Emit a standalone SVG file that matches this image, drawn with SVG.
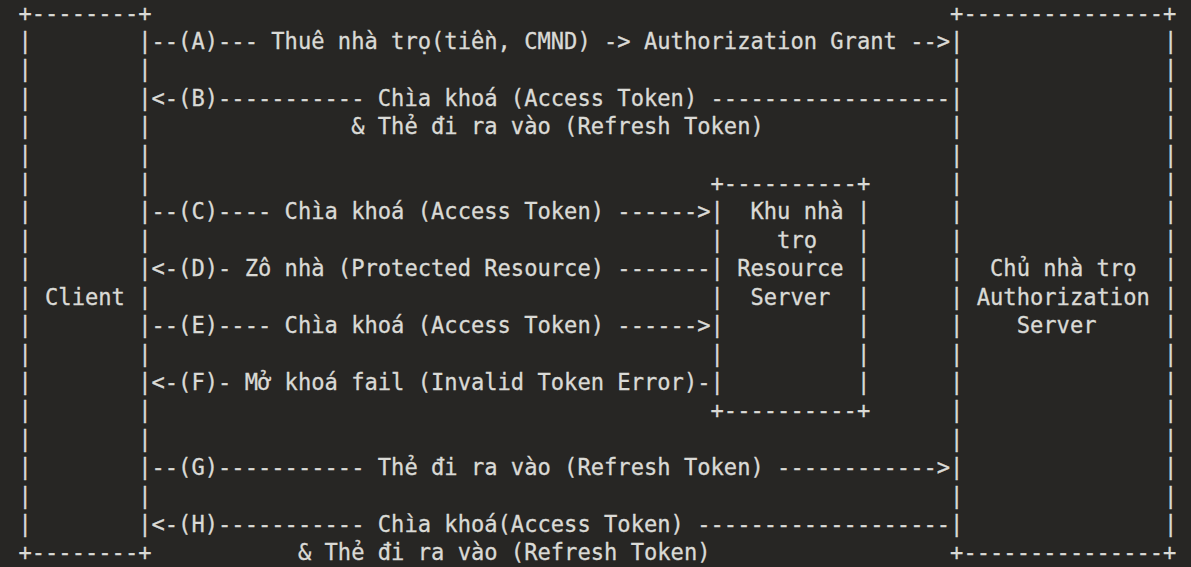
<svg xmlns="http://www.w3.org/2000/svg" width="1191" height="567" viewBox="0 0 1191 567">
<style>
.t{font-family:"DejaVu Sans Mono","Liberation Mono",monospace;font-size:22.1px;fill:#dadad6;stroke:#dadad6;stroke-width:0.3px;white-space:pre;}
</style>
<rect x="0" y="0" width="1191" height="567" fill="#272624"/>
<g id="client">
<text class="t" x="18.4" y="20.5" textLength="133.1" xml:space="preserve">+--------+</text>
<text class="t" x="18.4 18.4 18.4 18.4 18.4 18.4 18.4 18.4 18.4 18.4 18.4 18.4 18.4 18.4 18.4 18.4 18.4 18.4" y="48.92 77.34 105.76 134.18 162.6 191.02 219.44 247.86 276.28 304.7 333.12 361.54 389.96 418.38 446.8 475.22 503.64 532.06">||||||||||||||||||</text>
<text class="t" x="138.19 138.19 138.19 138.19 138.19 138.19 138.19 138.19 138.19 138.19 138.19 138.19 138.19 138.19 138.19 138.19 138.19 138.19" y="48.92 77.34 105.76 134.18 162.6 191.02 219.44 247.86 276.28 304.7 333.12 361.54 389.96 418.38 446.8 475.22 503.64 532.06">||||||||||||||||||</text>
<text class="t" x="45.02" y="304.7" textLength="79.86">Client</text>
<text class="t" x="18.4" y="560.48" textLength="133.1" xml:space="preserve">+--------+</text>
</g>
<g id="resource-server">
<text class="t" x="710.52" y="191.02" textLength="159.72" xml:space="preserve">+----------+</text>
<text class="t" x="710.52 710.52 710.52 710.52 710.52 710.52 710.52" y="219.44 247.86 276.28 304.7 333.12 361.54 389.96">|||||||</text>
<text class="t" x="856.93 856.93 856.93 856.93 856.93 856.93 856.93" y="219.44 247.86 276.28 304.7 333.12 361.54 389.96">|||||||</text>
<text class="t" x="750.45" y="219.44" textLength="93.17" xml:space="preserve">Khu nhà</text>
<text class="t" x="777.07" y="247.86" textLength="39.93">trọ</text>
<text class="t" x="737.14" y="276.28" textLength="106.48">Resource</text>
<text class="t" x="750.45" y="304.7" textLength="79.86">Server</text>
<text class="t" x="710.52" y="418.38" textLength="159.72" xml:space="preserve">+----------+</text>
</g>
<g id="authorization-server">
<text class="t" x="950.1" y="20.5" textLength="226.27" xml:space="preserve">+---------------+</text>
<text class="t" x="950.1 950.1 950.1 950.1 950.1 950.1 950.1 950.1 950.1 950.1 950.1 950.1 950.1 950.1 950.1 950.1 950.1 950.1" y="48.92 77.34 105.76 134.18 162.6 191.02 219.44 247.86 276.28 304.7 333.12 361.54 389.96 418.38 446.8 475.22 503.64 532.06">||||||||||||||||||</text>
<text class="t" x="1164.06 1164.06 1164.06 1164.06 1164.06 1164.06 1164.06 1164.06 1164.06 1164.06 1164.06 1164.06 1164.06 1164.06 1164.06 1164.06 1164.06 1164.06" y="48.92 77.34 105.76 134.18 162.6 191.02 219.44 247.86 276.28 304.7 333.12 361.54 389.96 418.38 446.8 475.22 503.64 532.06">||||||||||||||||||</text>
<text class="t" x="990.03" y="276.28" textLength="146.41" xml:space="preserve">Chủ nhà trọ</text>
<text class="t" x="976.72" y="304.7" textLength="173.03">Authorization</text>
<text class="t" x="1016.65" y="333.12" textLength="79.86">Server</text>
<text class="t" x="950.1" y="560.48" textLength="226.27" xml:space="preserve">+---------------+</text>
</g>
<g id="connectors">
<text class="t" x="151.5" y="48.92" textLength="798.6" xml:space="preserve">--(A)--- Thuê nhà trọ(tiền, CMND) -&gt; Authorization Grant --&gt;</text>
<text class="t" x="151.5" y="105.76" textLength="798.6" xml:space="preserve">&lt;-(B)----------- Chìa khoá (Access Token) ------------------</text>
<text class="t" x="351.15" y="134.18" textLength="412.61" xml:space="preserve">&amp; Thẻ đi ra vào (Refresh Token)</text>
<text class="t" x="151.5" y="219.44" textLength="559.02" xml:space="preserve">--(C)---- Chìa khoá (Access Token) ------&gt;</text>
<text class="t" x="151.5" y="276.28" textLength="559.02" xml:space="preserve">&lt;-(D)- Zô nhà (Protected Resource) -------</text>
<text class="t" x="151.5" y="333.12" textLength="559.02" xml:space="preserve">--(E)---- Chìa khoá (Access Token) ------&gt;</text>
<text class="t" x="151.5" y="389.96" textLength="559.02" xml:space="preserve">&lt;-(F)- Mở khoá fail (Invalid Token Error)-</text>
<text class="t" x="151.5" y="475.22" textLength="798.6" xml:space="preserve">--(G)----------- Thẻ đi ra vào (Refresh Token) ------------&gt;</text>
<text class="t" x="151.5" y="532.06" textLength="798.6" xml:space="preserve">&lt;-(H)----------- Chìa khoá(Access Token) -------------------</text>
<text class="t" x="297.91" y="560.48" textLength="412.61" xml:space="preserve">&amp; Thẻ đi ra vào (Refresh Token)</text>
</g>
</svg>
